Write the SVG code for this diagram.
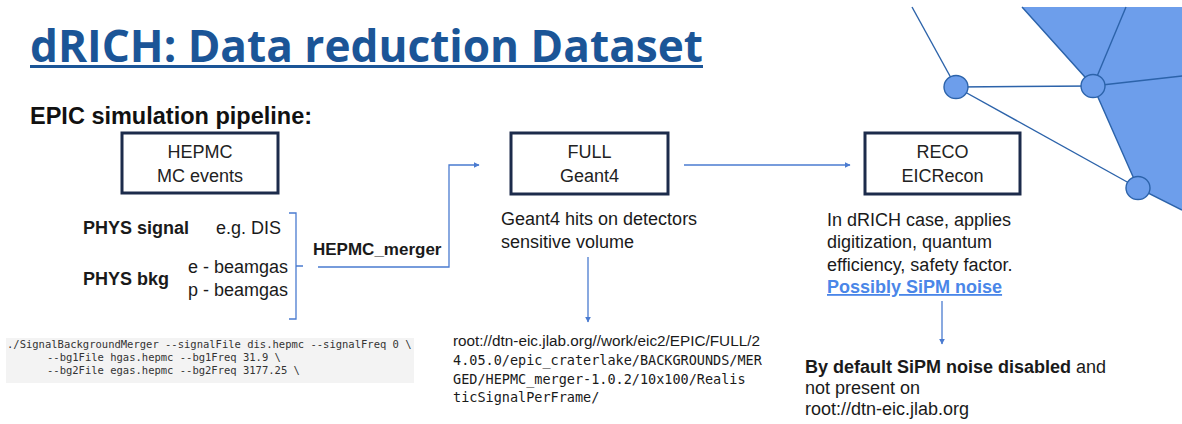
<svg xmlns="http://www.w3.org/2000/svg" width="1182" height="424" viewBox="0 0 1182 424">
  <style>
    .title { font-family: "Open Sans", "Liberation Sans", sans-serif; font-weight: 700; font-size: 44px; fill: #1b5597; }
    .h2 { font-family: "Liberation Sans", Arial, sans-serif; font-weight: 700; font-size: 23.5px; fill: #111; }
    .box { fill: #ffffff; stroke: #1c2b4b; stroke-width: 3; }
    .btxt { font-family: "Liberation Sans", Arial, sans-serif; font-size: 18px; fill: #222; text-anchor: middle; }
    .t { font-family: "Liberation Sans", Arial, sans-serif; font-size: 18px; fill: #1a1a1a; }
    .b { font-weight: 700; }
    .link { font-family: "Liberation Sans", Arial, sans-serif; font-size: 18px; font-weight: 700; fill: #4a86e8; text-decoration: underline; }
    .mono { font-family: "DejaVu Sans Mono", "Liberation Mono", monospace; font-size: 13.5px; fill: #1a1a1a; }
    .code { font-family: "DejaVu Sans Mono", "Liberation Mono", monospace; font-size: 10.5px; fill: #333333; white-space: pre; }
    .conn { fill: none; stroke: #4a7bd0; stroke-width: 1.3; }
    .net { fill: none; stroke: #2c63aa; stroke-width: 1.4; }
    .dot { fill: #6d9eeb; stroke: #2c63aa; stroke-width: 1.4; }
  </style>
  <defs>
    <marker id="arrow" viewBox="0 0 10 10" refX="9" refY="5" markerWidth="6" markerHeight="6" markerUnits="userSpaceOnUse" orient="auto">
      <path d="M0,0 L10,5 L0,10 z" fill="#4a7bd0"/>
    </marker>
  </defs>

  <rect width="1182" height="424" fill="#ffffff"/>

  <!-- decorative network, top right -->
  <g id="decoration">
    <polygon points="1022,7 1182,7 1182,210 1138,188 1093,86" fill="#6d9eeb"/>
    <polyline class="net" points="1022,7 1093,86 1138,188 1182,210"/>
    <line class="net" x1="1093" y1="86" x2="1126" y2="7"/>
    <line class="net" x1="1093" y1="86" x2="1182" y2="76"/>
    <line class="net" x1="912" y1="7" x2="956" y2="87"/>
    <line class="net" x1="956" y1="87" x2="1093" y2="86"/>
    <line class="net" x1="956" y1="87" x2="1138" y2="188"/>
    <ellipse class="dot" cx="956" cy="87" rx="12" ry="11.5"/>
    <ellipse class="dot" cx="1093" cy="86" rx="12" ry="11.5"/>
    <ellipse class="dot" cx="1138" cy="188" rx="12" ry="11.5"/>
  </g>

  <!-- headings -->
  <g id="title">
    <text class="title" x="30" y="62" textLength="673" lengthAdjust="spacingAndGlyphs">dRICH: Data reduction Dataset</text>
    <rect x="30" y="65" width="673" height="3" fill="#1b5597"/>
  </g>
  <text class="h2" x="30" y="124">EPIC simulation pipeline:</text>

  <!-- connectors -->
  <g id="connectors">
    <path class="conn" d="M289,213 H296 V319 H289 M296,266 H303"/>
    <path class="conn" d="M318,267 H449 V165 H479" marker-end="url(#arrow)"/>
    <path class="conn" d="M684,165 H850" marker-end="url(#arrow)"/>
    <path class="conn" d="M588,257 V322" marker-end="url(#arrow)"/>
    <path class="conn" d="M942,301 V344" marker-end="url(#arrow)"/>
  </g>

  <!-- nodes -->
  <g id="hepmc">
    <rect class="box" x="122" y="133" width="156" height="60"/>
    <text class="btxt" x="200" y="158">HEPMC</text>
    <text class="btxt" x="200" y="182">MC events</text>
  </g>

  <g id="inputs">
    <text class="t b" x="83" y="234">PHYS signal</text>
    <text class="t" x="216" y="234">e.g. DIS</text>
    <text class="t b" x="83" y="285">PHYS bkg</text>
    <text class="t" x="188" y="273">e - beamgas</text>
    <text class="t" x="188" y="296">p - beamgas</text>
    <text class="t b" x="313" y="255" style="font-size:17px">HEPMC_merger</text>
  </g>

  <g id="merger-command">
    <rect x="6" y="338" width="408" height="45" fill="#f3f3f3"/>
    <text class="code" x="7" y="348">./SignalBackgroundMerger --signalFile dis.hepmc --signalFreq 0 \</text>
    <text class="code" x="47" y="361">--bg1File hgas.hepmc --bg1Freq 31.9 \</text>
    <text class="code" x="47" y="374">--bg2File egas.hepmc --bg2Freq 3177.25 \</text>
  </g>

  <g id="full">
    <rect class="box" x="511" y="133" width="157" height="61"/>
    <text class="btxt" x="589.5" y="158">FULL</text>
    <text class="btxt" x="589.5" y="182">Geant4</text>
  </g>
  <g id="full-notes">
    <text class="t" x="501" y="225">Geant4 hits on detectors</text>
    <text class="t" x="501" y="248">sensitive volume</text>
  </g>

  <g id="full-path">
    <text class="t" x="453" y="346" style="font-size:15.3px">root://dtn-eic.jlab.org//work/eic2/EPIC/FULL/2</text>
    <text class="mono" x="453" y="365">4.05.0/epic_craterlake/BACKGROUNDS/MER</text>
    <text class="mono" x="453" y="384">GED/HEPMC_merger-1.0.2/10x100/Realis</text>
    <text class="mono" x="453" y="402">ticSignalPerFrame/</text>
  </g>

  <g id="reco">
    <rect class="box" x="865" y="133" width="155" height="61"/>
    <text class="btxt" x="942.5" y="158">RECO</text>
    <text class="btxt" x="942.5" y="182">EICRecon</text>
  </g>
  <g id="reco-notes">
    <text class="t" x="827" y="226">In dRICH case, applies</text>
    <text class="t" x="827" y="248">digitization, quantum</text>
    <text class="t" x="827" y="271">efficiency, safety factor.</text>
    <text class="link" x="827" y="293">Possibly SiPM noise</text>
  </g>

  <g id="noise-default">
    <text class="t" x="805" y="373"><tspan class="b">By default SiPM noise disabled</tspan> and</text>
    <text class="t" x="805" y="394">not present on</text>
    <text class="t" x="805" y="415">root://dtn-eic.jlab.org</text>
  </g>
</svg>
